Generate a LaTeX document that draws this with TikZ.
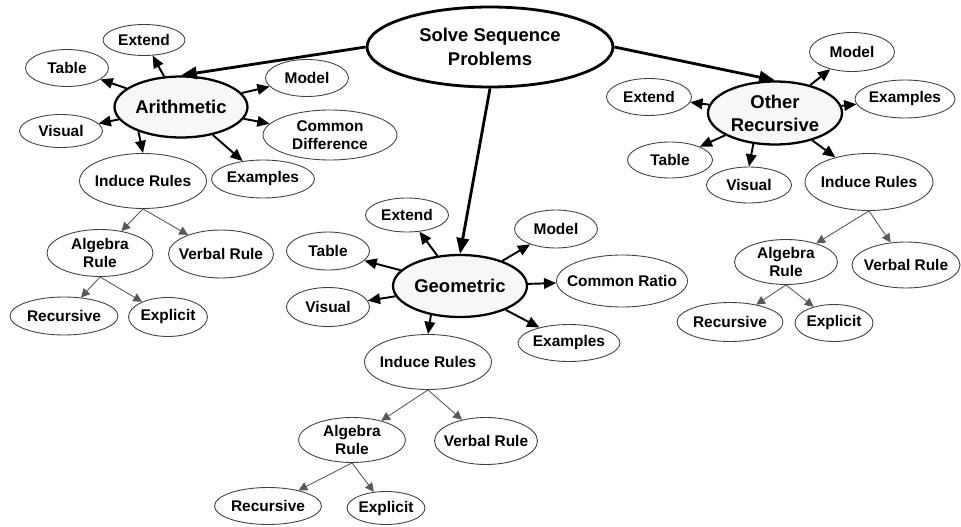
\documentclass[tikz,border=0pt]{standalone}
\usepackage{fontspec}
\setmainfont{Liberation Sans}
\usetikzlibrary{shapes.geometric,arrows.meta}

\tikzset{
  leaf/.style={ellipse,draw=black!75,line width=0.5pt,fill=white,inner xsep=-5mm,inner ysep=0pt,
    minimum width=1.66cm,minimum height=0.74cm,align=center,
    font=\fontsize{8.8}{10.5}\selectfont\bfseries},
  branch/.style={ellipse,draw=black,line width=1.3pt,fill=gray!6,inner xsep=-5mm,inner ysep=0pt,
    minimum width=2.66cm,minimum height=1.22cm,align=center,
    font=\fontsize{10.5}{13}\selectfont\bfseries},
  topic/.style={ellipse,draw=black,line width=1.6pt,fill=white,inner xsep=-5mm,inner ysep=0pt,
    minimum width=4.92cm,minimum height=1.6cm,align=center,
    font=\fontsize{10.5}{14}\selectfont\bfseries},
  link/.style={line width=1.6pt,-{Triangle[length=9pt,width=7pt]}},
  arm/.style={line width=1.1pt,-{Triangle[length=7pt,width=6pt]}},
  twig/.style={black!65,line width=0.5pt,-{Triangle[length=5pt,width=5pt]}}
}

\begin{document}
\begin{tikzpicture}[x=0.02cm,y=-0.02cm]
\useasboundingbox (0,0) rectangle (961,527);
\node[topic] (root) at (490,47) {Solve Sequence\\Problems};

\node[branch] (ar) at (181,107) {Arithmetic};
\node[leaf,minimum width=1.64cm,minimum height=0.62cm] (ar-ext) at (144,40) {Extend};
\node[leaf] (ar-tab) at (67,68) {Table};
\node[leaf,minimum height=0.66cm] (ar-vis) at (61,131) {Visual};
\node[leaf] (ar-mod) at (307,78) {Model};
\node[leaf,minimum width=2.68cm,minimum height=1.0cm] (ar-dif) at (330,135) {Common\\Difference};
\node[leaf,minimum width=2.54cm,minimum height=1.1cm] (ar-ind) at (143,181) {Induce Rules};
\node[leaf,minimum width=2.06cm,minimum height=0.76cm] (ar-exa) at (263,179) {Examples};
\node[leaf,minimum width=2.12cm,minimum height=0.94cm] (ar-alg) at (100,253) {Algebra\\Rule};
\node[leaf,minimum width=2.1cm,minimum height=0.96cm] (ar-ver) at (221,254) {Verbal Rule};
\node[leaf,minimum width=2.16cm,minimum height=0.76cm] (ar-rec) at (64,316) {Recursive};
\node[leaf,minimum width=1.58cm,minimum height=0.78cm] (ar-exp) at (168,317) {Explicit};

\node[branch,minimum width=2.68cm,minimum height=1.24cm] (ge) at (460,286) {Geometric};
\node[leaf,minimum height=0.68cm] (ge-ext) at (407,215) {Extend};
\node[leaf,minimum height=0.76cm] (ge-tab) at (328,251) {Table};
\node[leaf,minimum height=0.78cm] (ge-vis) at (328,307) {Visual};
\node[leaf,minimum height=0.76cm] (ge-mod) at (556,229) {Model};
\node[leaf,minimum width=2.62cm,minimum height=1.04cm] (ge-rat) at (622,281) {Common Ratio};
\node[leaf,minimum width=2.04cm] (ge-exa) at (569,343) {Examples};
\node[leaf,minimum width=2.54cm,minimum height=1.1cm] (ge-ind) at (428,362) {Induce Rules};
\node[leaf,minimum width=2.14cm,minimum height=0.9cm] (ge-alg) at (352,440) {Algebra\\Rule};
\node[leaf,minimum width=2.06cm,minimum height=0.94cm] (ge-ver) at (486,441) {Verbal Rule};
\node[leaf,minimum width=2.14cm] (ge-rec) at (268,506) {Recursive};
\node[leaf,minimum width=1.56cm,minimum height=0.66cm] (ge-exp) at (386,508) {Explicit};

\node[branch,minimum width=2.68cm,minimum height=1.26cm] (ot) at (775,113) {Other\\Recursive};
\node[leaf,minimum width=1.7cm] (ot-ext) at (649,97) {Extend};
\node[leaf,minimum width=1.7cm,minimum height=0.78cm] (ot-mod) at (852,52) {Model};
\node[leaf,minimum width=2.0cm,minimum height=0.76cm] (ot-exa) at (905,99) {Examples};
\node[leaf,minimum width=1.7cm,minimum height=0.72cm] (ot-tab) at (670,160) {Table};
\node[leaf,minimum width=1.7cm,minimum height=0.72cm] (ot-vis) at (749,185) {Visual};
\node[leaf,minimum width=2.56cm,minimum height=1.14cm] (ot-ind) at (869,182) {Induce Rules};
\node[leaf,minimum width=2.06cm,minimum height=0.9cm] (ot-alg) at (786,262) {Algebra\\Rule};
\node[leaf,minimum width=2.16cm,minimum height=0.92cm] (ot-ver) at (906,265) {Verbal Rule};
\node[leaf,minimum width=2.12cm,minimum height=0.78cm] (ot-rec) at (730,322) {Recursive};
\node[leaf,minimum width=1.56cm] (ot-exp) at (834,323) {Explicit};

\draw[link] (root.west) -- (ar.north);
\draw[link] (root.south) -- (ge.north);
\draw[link] (root.east) -- (ot.north);

\draw[arm] (ar) -- (ar-ext);
\draw[arm] (ar) -- (ar-tab);
\draw[arm] (ar) -- (ar-vis);
\draw[arm] (ar) -- (ar-mod);
\draw[arm] (ar) -- (ar-dif);
\draw[arm] (ar) -- (ar-exa);
\draw[arm] (ar.210) -- (ar-ind.north);
\draw[twig] (ar-ind.south) -- (ar-alg);
\draw[twig] (ar-ind.south) -- (ar-ver);
\draw[twig] (ar-alg.south) -- (ar-rec);
\draw[twig] (ar-alg.south) -- (ar-exp);

\draw[arm] (ge) -- (ge-ext);
\draw[arm] (ge) -- (ge-tab);
\draw[arm] (ge) -- (ge-vis);
\draw[arm] (ge) -- (ge-mod);
\draw[arm] (ge) -- (ge-rat);
\draw[arm] (ge) -- (ge-exa);
\draw[arm] (ge.225) -- (ge-ind.north);
\draw[twig] (ge-ind.south) -- (ge-alg);
\draw[twig] (ge-ind.south) -- (ge-ver);
\draw[twig] (ge-alg.south) -- (ge-rec);
\draw[twig] (ge-alg.south) -- (ge-exp);

\draw[arm] (ot) -- (ot-ext);
\draw[arm] (ot) -- (ot-mod);
\draw[arm] (ot) -- (ot-exa);
\draw[arm] (ot) -- (ot-tab);
\draw[arm] (ot.235) -- (ot-vis.north);
\draw[arm] (ot) -- (ot-ind);
\draw[twig] (ot-ind.south) -- (ot-alg);
\draw[twig] (ot-ind.south) -- (ot-ver);
\draw[twig] (ot-alg.south) -- (ot-rec);
\draw[twig] (ot-alg.south) -- (ot-exp);
\end{tikzpicture}
\end{document}
